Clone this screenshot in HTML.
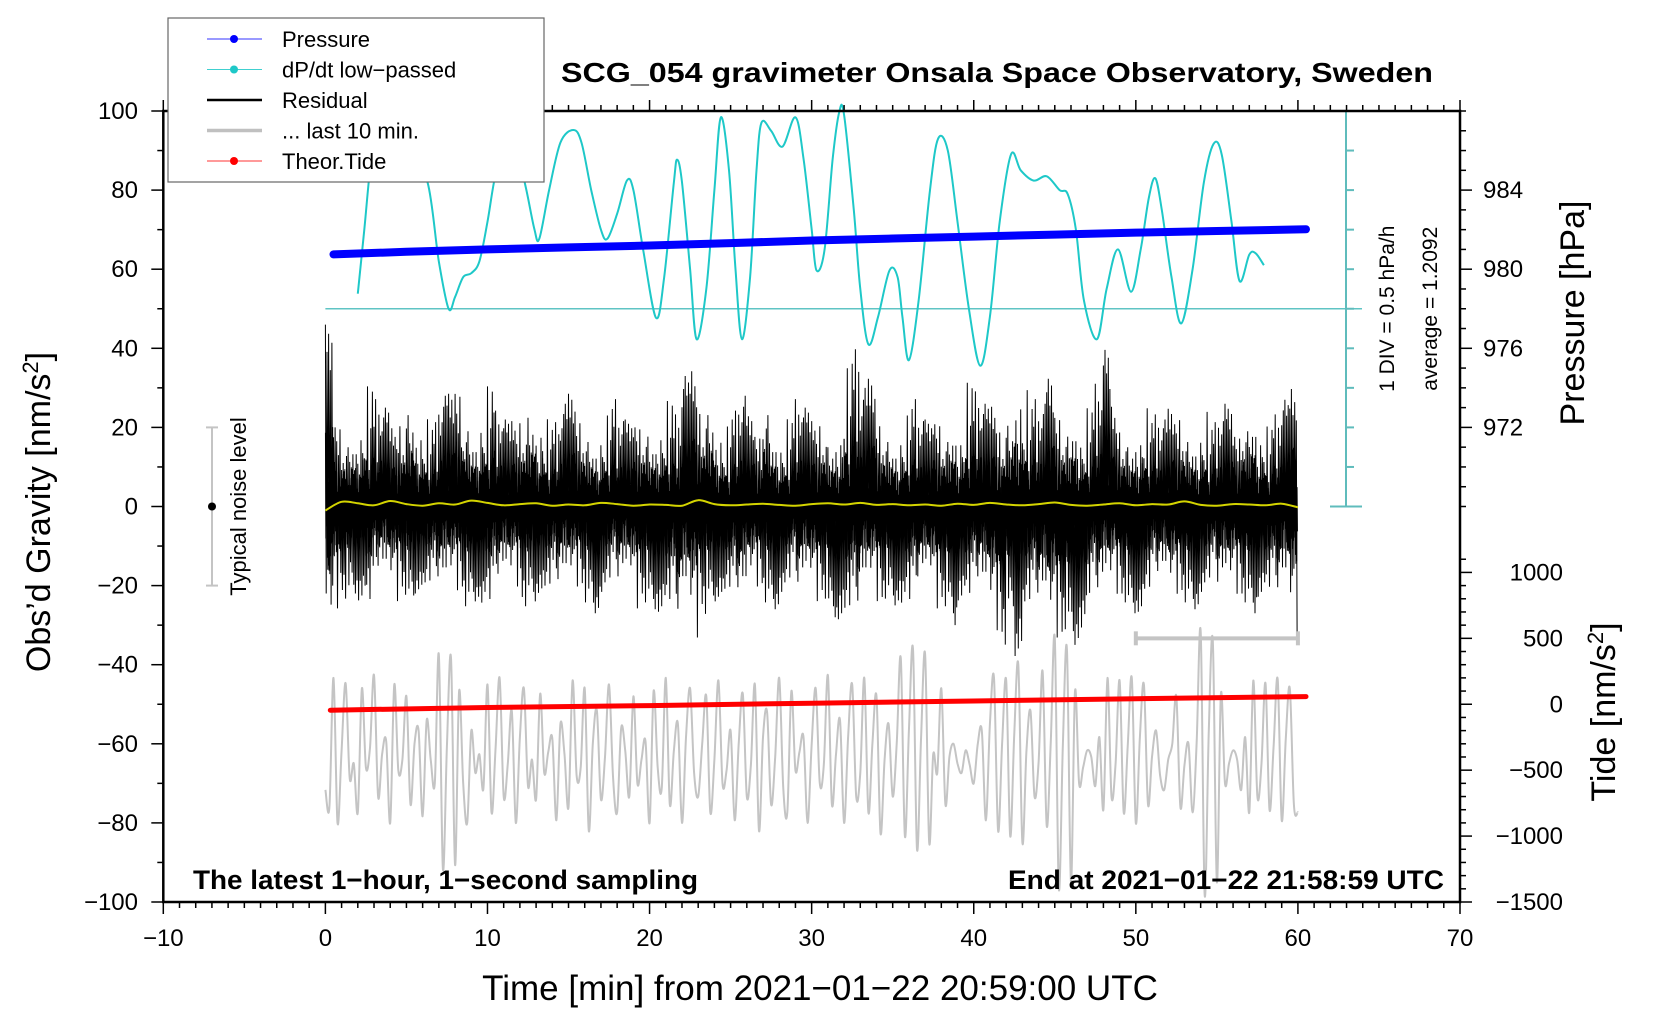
<!DOCTYPE html>
<html><head><meta charset="utf-8"><style>
html,body{margin:0;padding:0;background:#fff;}
svg{display:block;font-family:"Liberation Sans",Arial,sans-serif;}
</style></head><body>
<svg id="chart" width="1660" height="1020" viewBox="0 0 1660 1020" xmlns="http://www.w3.org/2000/svg"></svg>
<script>
// ---- data ----
const xTicks=[-10,0,10,20,30,40,50,60,70];
const gTicks=[-100,-80,-60,-40,-20,0,20,40,60,80,100];
const pTicks=[972,976,980,984];
const tideTicks=[-1500,-1000,-500,0,500,1000];
// residual envelope, one bin per 0.5 min (nm/s^2)
const residHi=[46,25,22,24,27,33,28,25,22,26,34,27,24,22,28,30,35.6,28,25,30,33,25,22,24,27,33,28,24,22,26,30,27,24,22,25,28,24,22,25,26,24,27,29,24,33,38,30,34,26,22,25,28,24,22,34,25,22,24,28,25,24,26,22,25,38,41,30,34,26,24,22,25,28,24,22,26,24,28,25,34,30,26,28,24,30,39.6,32,28,26,34,28,26,30,24,27,32,39.6,28,24,22,25,27,24,22,26,28,24,23,26,22,24,26,22,28,32,25,22,24,27,33];
const residLo=[-40,-28,-24,-22,-25,-30,-22,-24,-26,-23,-25,-22,-24,-26,-28,-24,-23,-26,-24,-27,-30,-25,-24,-22,-26,-24,-23,-25,-27,-26,-24,-22,-25,-27,-24,-23,-26,-24,-28,-25,-26,-28,-30,-38,-32,-36,-28,-25,-24,-26,-30,-32,-24,-22,-25,-26,-24,-23,-28,-25,-26,-24,-28,-30,-32,-35,-28,-25,-26,-24,-25,-27,-30,-26,-24,-28,-26,-30,-25,-28,-26,-30,-34,-36,-28,-37.8,-30,-32,-34,-38,-36,-32,-35,-34,-28,-30,-26,-24,-25,-27,-28,-26,-24,-25,-27,-24,-25,-26,-24,-23,-28,-26,-24,-25,-27,-24,-26,-30,-28,-35];
// smoothed residual, one value per minute
const smooth=[-1,1.2,0.8,0.3,1.4,0.6,0.2,0.8,0.5,1.5,0.9,0.3,0.6,0.8,0.2,0.5,0.3,0.9,0.6,0.2,0.5,0.4,0.2,1.6,0.6,0.3,0.5,0.7,0.4,0.2,0.6,0.8,0.5,0.9,0.4,0.6,0.3,0.5,0.2,0.7,0.4,0.9,0.5,0.3,0.6,1.0,0.4,0.2,0.5,0.8,0.3,0.6,0.5,1.3,0.4,0.2,0.6,0.5,0.3,0.7,-0.2];
// last-10-min residual (tide units), every 0.25 min
const grayVals=[-650,-780,200,-900,-350,160,-560,-450,-820,120,-480,-330,220,-700,-380,-280,-900,150,-500,-420,60,-760,-300,-200,-850,-120,-420,-600,380,-1250,-300,350,-1220,100,-600,-900,-200,-520,-380,-640,150,-820,-330,200,-700,-460,-50,-900,-250,120,-620,-420,-720,80,-520,-360,-260,-880,-150,-380,-780,180,-540,-480,120,-960,-300,-50,-720,-400,150,-560,-820,-180,-350,-700,60,-600,-420,-280,-900,100,-480,-640,200,-760,-350,-150,-900,-250,120,-520,-700,-300,60,-820,-420,180,-600,-500,-200,-880,-300,80,-700,-460,150,-960,-250,-60,-760,-400,200,-640,-820,100,-500,-360,-250,-900,-300,120,-600,-460,220,-760,-380,-120,-900,-250,150,-700,-520,200,-820,-300,60,-980,-420,-150,-700,-300,350,-1000,-200,420,-1100,-250,380,-1050,-380,-520,120,-760,-400,-300,-450,-520,-350,-460,-600,-300,-200,-880,-150,200,-960,-300,180,-1000,-220,300,-1050,-360,-50,-700,-440,250,-920,-300,500,-1400,-300,420,-1350,100,-600,-480,-350,-400,-620,-250,-800,200,-700,-450,180,-820,-320,200,-900,-250,150,-760,-400,-200,-540,-650,-420,-300,60,-780,-460,-300,-820,-300,550,-1450,-200,480,-1350,80,-600,-450,-350,-420,-650,-250,-820,180,-700,-460,160,-800,-320,190,-880,-260,120,-760,-820,-500,-780];
// pressure (hPa) every 5 min from 0.5
const presT=[0.5,5,10,15,20,25,30,35,40,45,50,55,60.5];
const presV=[980.75,980.88,981.0,981.1,981.2,981.32,981.45,981.55,981.65,981.75,981.85,981.93,982.02];
// theoretical tide (nm/s^2)
const tideT=[0.3,10,20,30,40,50,60.5];
const tideV=[-45,-25,-10,8,25,42,58];
// dP/dt low-passed, in divisions (0.5 hPa/h) from average 1.2092
const cyT=[2.0,2.4,2.9,3.5,4.2,5.2,6.3,7.0,7.6,8.0,8.5,9.0,9.5,10.0,10.5,11.2,11.8,12.4,12.9,13.2,13.8,14.5,15.3,15.8,16.4,17.0,17.4,18.0,18.6,19.0,19.6,20.4,20.9,21.5,21.7,22.0,22.5,22.9,23.5,24.0,24.4,24.9,25.3,25.7,26.2,26.6,26.9,27.5,28.2,29.0,29.5,30.0,30.3,30.8,31.3,31.7,32.0,32.6,33.0,33.5,34.1,34.8,35.3,35.6,36.0,36.6,37.3,37.8,38.4,39.0,39.7,40.4,41.0,41.6,42.3,42.9,43.7,44.5,45.3,45.8,46.3,46.8,47.6,48.2,48.9,49.7,50.3,50.8,51.2,51.6,52.2,52.8,53.5,54.2,54.8,55.3,55.9,56.4,57.0,57.4,57.9];
const cyV=[0.38,2.0,4.0,4.7,4.5,3.8,3.2,1.2,0.0,0.3,0.8,0.9,1.2,2.2,3.4,4.3,4.0,3.0,2.0,1.77,3.0,4.2,4.52,4.2,3.0,2.0,1.77,2.4,3.24,3.0,1.5,-0.23,0.8,3.2,3.77,3.2,1.0,-0.77,0.5,3.0,4.84,3.5,1.0,-0.77,0.8,3.5,4.7,4.5,4.1,4.84,3.8,2.0,0.97,1.5,3.8,4.97,4.9,2.5,0.5,-0.9,-0.2,0.97,0.8,-0.2,-1.3,0.2,3.0,4.3,4.0,2.2,0.0,-1.44,-0.2,2.2,3.9,3.5,3.24,3.35,3.0,2.9,2.0,0.2,-0.77,0.5,1.5,0.43,1.5,2.8,3.3,2.5,0.8,-0.37,1.0,3.2,4.17,3.9,2.2,0.7,1.37,1.4,1.1];

// ---- scales ----
const X0=163.3,X1=1460,Y0=902,Y1=111;
const sx=t=>X0+(t+10)*(X1-X0)/80;
const sy=g=>Y0-(g+100)*(Y0-Y1)/200;
const pToG=p=>80+(p-984)*5;
const tideToG=v=>-100+(v+1500)/30;
const divToG=d=>50+d*10;
const NS="http://www.w3.org/2000/svg";
const svg=document.getElementById('chart');
function mk(tag,attrs,parent){const e=document.createElementNS(NS,tag);for(const k in attrs)e.setAttribute(k,attrs[k]);(parent||svg).appendChild(e);return e;}
function txt(s,attrs,parent){const e=mk('text',attrs,parent);e.textContent=s;return e;}
function smoothPath(pts){
  let d='M'+pts[0][0].toFixed(1)+' '+pts[0][1].toFixed(1);
  for(let i=0;i<pts.length-1;i++){
    const p0=pts[Math.max(0,i-1)],p1=pts[i],p2=pts[i+1],p3=pts[Math.min(pts.length-1,i+2)];
    const c1=[p1[0]+(p2[0]-p0[0])/6,p1[1]+(p2[1]-p0[1])/6];
    const c2=[p2[0]-(p3[0]-p1[0])/6,p2[1]-(p3[1]-p1[1])/6];
    d+='C'+c1[0].toFixed(1)+' '+c1[1].toFixed(1)+' '+c2[0].toFixed(1)+' '+c2[1].toFixed(1)+' '+p2[0].toFixed(1)+' '+p2[1].toFixed(1);
  }
  return d;
}

// ---- gray last 10 min ----
const gpts=[];
grayVals.forEach((v,i)=>{if(i*0.25<=60)gpts.push([sx(i*0.25),sy(tideToG(v))]);});
let el=mk('path',{d:smoothPath(gpts),fill:'none',stroke:'#c4c4c4','stroke-width':2});



// ---- residual ----
const pat=[1,0.55,0.85,0.4,0.95,0.3,0.75,0.62,0.9,0.5,0.7,0.45,0.8,0.35,0.66,0.92,0.52,0.28,0.78,0.6,0.42,0.88,0.5,0.72,0.33,0.97,0.58,0.4,0.68,0.83,0.47,0.64,0.3,0.76,0.55,0.9,0.38];
const nb=Math.min(residHi.length,residLo.length);
let d='';let first=true;let n=0;
for(let i=0;i<nb;i++){
  for(let k=0;k<10;k++){
    const t=i*0.5+k*0.05;
    const v=(k%2===0?residHi[i]:residLo[i])*pat[(n++)%pat.length];
    d+=(first?'M':'L')+sx(t).toFixed(1)+' '+sy(v).toFixed(1);first=false;
  }
}
el=mk('path',{d:d,fill:'none',stroke:'#000','stroke-width':1});


d='';first=true;n=5;
for(let i=0;i<nb;i++){
  for(let k=0;k<20;k++){
    const t=i*0.5+k*0.025;
    const v=(k%2===0?residHi[i]:residLo[i])*0.45*pat[(n+=3)%pat.length];
    d+=(first?'M':'L')+sx(t).toFixed(1)+' '+sy(v).toFixed(1);first=false;
  }
}
el=mk('path',{d:d,fill:'none',stroke:'#000','stroke-width':0.9});



// smoothed
const spts=smooth.map((v,i)=>[sx(i),sy(v)]);
el=mk('path',{d:smoothPath(spts),fill:'none',stroke:'#d4d400','stroke-width':2});



// ---- theor tide ----
d='';tideT.forEach((t,i)=>{d+=(i?'L':'M')+sx(t).toFixed(1)+' '+sy(tideToG(tideV[i])).toFixed(1);});
el=mk('path',{d:d,fill:'none',stroke:'#ff0000','stroke-width':5,'stroke-linecap':'round'});



// ---- cyan baseline and curve ----
el=mk('line',{x1:sx(0),x2:1362,y1:sy(50),y2:sy(50),stroke:'#5fc4c4','stroke-width':1.5});


const cpts=cyT.map((t,i)=>[sx(t),sy(divToG(cyV[i]))]);
el=mk('path',{d:smoothPath(cpts),fill:'none',stroke:'#1ec8c8','stroke-width':2,'stroke-linejoin':'round'});



// ---- pressure ----
d='';presT.forEach((t,i)=>{d+=(i?'L':'M')+sx(t).toFixed(1)+' '+sy(pToG(presV[i])).toFixed(1);});
el=mk('path',{d:d,fill:'none',stroke:'#0000ff','stroke-width':8,'stroke-linecap':'round'});



// ---- cyan scale ----
const cs=mk('g',{stroke:'#5fbcbc','stroke-width':2});


mk('line',{x1:1346,x2:1346,y1:sy(100),y2:sy(0)},cs);
mk('line',{x1:1330,x2:1362,y1:sy(100),y2:sy(100)},cs);
mk('line',{x1:1330,x2:1362,y1:sy(0),y2:sy(0)},cs);
for(let g=10;g<100;g+=10){mk('line',{x1:1346,x2:1354,y1:sy(g),y2:sy(g)},cs);}
el=txt('1 DIV = 0.5 hPa/h',{x:0,y:0,'font-size':21,'text-anchor':'middle',transform:'translate(1394,'+sy(50)+') rotate(-90)'});


el=txt('average = 1.2092',{x:0,y:0,'font-size':21,'text-anchor':'middle',transform:'translate(1437,'+sy(50)+') rotate(-90)'});



// ---- range bar ----
const rb=mk('g',{stroke:'#c4c4c4','stroke-width':4});


const ry=sy(tideToG(500));
mk('line',{x1:sx(50),x2:sx(60),y1:ry,y2:ry},rb);
mk('line',{x1:sx(50),x2:sx(50),y1:ry-7,y2:ry+7},rb);
mk('line',{x1:sx(60),x2:sx(60),y1:ry-7,y2:ry+7},rb);

// ---- noise level ----
const nl=mk('g',{});


mk('line',{x1:212,x2:212,y1:sy(20),y2:sy(-20),stroke:'#c4c4c4','stroke-width':2},nl);
mk('line',{x1:206,x2:218,y1:sy(20),y2:sy(20),stroke:'#c4c4c4','stroke-width':2},nl);
mk('line',{x1:206,x2:218,y1:sy(-20),y2:sy(-20),stroke:'#c4c4c4','stroke-width':2},nl);
mk('circle',{cx:212,cy:sy(0),r:4,fill:'#000'},nl);
txt('Typical noise level',{x:0,y:0,'font-size':22,'text-anchor':'middle',transform:'translate(246,'+sy(0)+') rotate(-90)'},nl);

// ---- axes frame ----
el=mk('rect',{x:X0,y:Y1,width:X1-X0,height:Y0-Y1,fill:'none',stroke:'#000','stroke-width':2.5});



const ax=mk('g',{stroke:'#000','stroke-width':1.5});


for(let t=-10;t<=70;t++){
  const maj=(t%10===0);
  mk('line',{x1:sx(t),x2:sx(t),y1:Y0,y2:Y0+(maj?12:6)},ax);
  mk('line',{x1:sx(t),x2:sx(t),y1:Y1,y2:Y1-(maj?11:6)},ax);
}
xTicks.forEach(t=>{
  el=txt(String(t).replace('-','\u2212'),{x:sx(t),y:946,'font-size':24,'text-anchor':'middle',stroke:'none'});
  
  
});
const ay=mk('g',{stroke:'#000','stroke-width':1.5});


for(let g=-100;g<=100;g+=10){mk('line',{x1:X0,x2:X0-(g%20===0?12:6),y1:sy(g),y2:sy(g)},ay);}
gTicks.forEach(g=>{
  el=txt(String(g).replace('-','\u2212'),{x:138,y:sy(g)+8,'font-size':24,'text-anchor':'end',stroke:'none'});
  
  
});
const ap=mk('g',{stroke:'#000','stroke-width':1.5});


for(let p=968;p<=988;p++){const maj=pTicks.includes(p);mk('line',{x1:X1,x2:X1+(maj?12:6),y1:sy(pToG(p)),y2:sy(pToG(p))},ap);}
pTicks.forEach(p=>{
  el=txt(String(p),{x:1483,y:sy(pToG(p))+8,'font-size':24,stroke:'none'});
  
  
});
const at=mk('g',{stroke:'#000','stroke-width':1.5});


for(let v=-1500;v<=1100;v+=100){const maj=(v%500===0);mk('line',{x1:X1,x2:X1+(maj?12:6),y1:sy(tideToG(v)),y2:sy(tideToG(v))},at);}
tideTicks.forEach(v=>{
  el=txt(String(v).replace('-','\u2212'),{x:1563,y:sy(tideToG(v))+8,'font-size':24,'text-anchor':'end',stroke:'none'});
  
  
});

// ---- axis titles ----
el=txt('',{x:0,y:0,'font-size':34,'text-anchor':'middle',transform:'translate(50,512) rotate(-90)'});
el.innerHTML='Obs\u2019d Gravity [nm/s<tspan dy="-12" font-size="22">2</tspan><tspan dy="12">]</tspan>';


el=txt('Time [min] from 2021\u221201\u221222 20:59:00 UTC',{x:820,y:1000,'font-size':35,'text-anchor':'middle'});


el=txt('Pressure [hPa]',{x:0,y:0,'font-size':34,'text-anchor':'middle',transform:'translate(1584,313) rotate(-90)'});


el=txt('',{x:0,y:0,'font-size':34,'text-anchor':'middle',transform:'translate(1615,712) rotate(-90)'});
el.innerHTML='Tide [nm/s<tspan dy="-12" font-size="22">2</tspan><tspan dy="12">]</tspan>';



// ---- title & annotations ----
el=txt('SCG_054 gravimeter Onsala Space Observatory, Sweden',{x:561,y:82,'font-size':28,'font-weight':'bold',textLength:872,lengthAdjust:'spacingAndGlyphs'});


el=txt('The latest 1\u2212hour, 1\u2212second sampling',{x:193,y:889,'font-size':27,'font-weight':'bold',textLength:505,lengthAdjust:'spacingAndGlyphs'});


el=txt('End at 2021\u221201\u221222 21:58:59 UTC',{x:1008,y:889,'font-size':27,'font-weight':'bold',textLength:436,lengthAdjust:'spacingAndGlyphs'});



// ---- legend ----
const lg=mk('g',{});


mk('rect',{x:168,y:18,width:376,height:164,fill:'#fff',stroke:'#666','stroke-width':1.2},lg);
const legNames=['Pressure','dP/dt low\u2212passed','Residual','... last 10 min.','Theor.Tide'];
const legCols=['#3333ff','#40d0d0','#000','#c0c0c0','#ff3333'];
const legDot=['#0000ff','#1ec8c8',null,null,'#ff0000'];
const legW=[1,1,2.5,3.5,1];
legNames.forEach((nm,i)=>{
  const y=39+i*30.5;
  const g=mk('g',{},lg);
  
  
  mk('line',{x1:207,x2:262,y1:y,y2:y,stroke:legCols[i],'stroke-width':legW[i]},g);
  if(legDot[i])mk('circle',{cx:234,cy:y,r:4,fill:legDot[i]},g);
  txt(nm,{x:282,y:y+8,'font-size':22},g);
});
</script>
</body></html>
